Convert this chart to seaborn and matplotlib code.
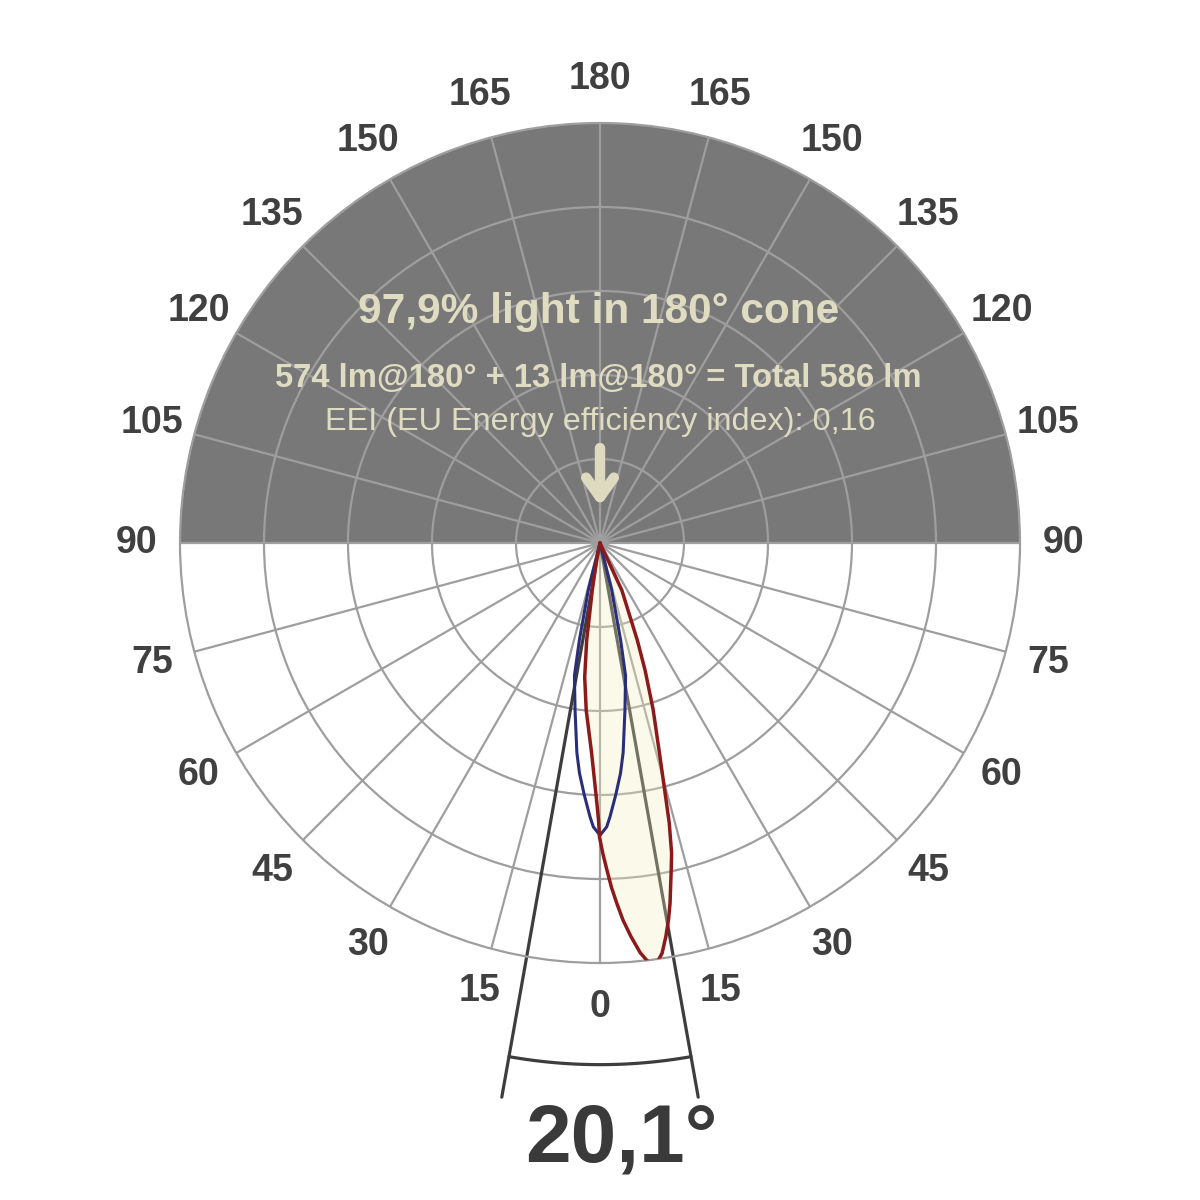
import numpy as np
import pandas as pd
import matplotlib
matplotlib.use("Agg")
import matplotlib.pyplot as plt
import seaborn as sns

# photometric curves: angle from nadir in degrees (positive = right), intensity in chart units (one ring = 100)
c0_angle = [-13.0, -11.5, -9.3, -7.8, -6.5, -4.7, -2.3, -0.9, -0.3, -0.1, 0.5, 1.2, 1.9,
            2.65, 3.5, 4.5, 5.6, 6.4, 7.0, 8.0, 8.6, 9.5, 10.3, 11.0, 11.6, 12.3, 13.0,
            13.9, 14.6, 15.8, 17.7, 19.5, 21.0, 24.8, 27.0]
c0_value = [0, 20, 57, 117, 161, 200, 250, 300, 330, 350, 369, 389, 410,
            429, 450, 470, 490, 500, 506, 501, 494, 475, 456, 437, 418, 398, 379,
            343, 307, 260, 208, 161, 124, 62, 0]

c90_angle = [-16.0, -14.0, -12.0, -10.9, -8.5, -6.3, -5.1, -3.6, -2.1, -1.35, 0.0,
             1.35, 2.1, 3.6, 5.1, 6.3, 8.5, 10.9, 12.0, 14.0, 16.0]
c90_value = [0, 57, 118, 161, 201, 251, 275, 300, 326, 338, 348,
             338, 326, 300, 275, 251, 201, 161, 118, 57, 0]

beam_angle = 20.1

tick_deg = [0, 15, 30, 45, 60, 75, 90, 105, 120, 135, 150, 165,
            180, 195, 210, 225, 240, 255, 270, 285, 300, 315, 330, 345]
tick_text = ["0", "15", "30", "45", "60", "75", "90", "105", "120", "135", "150", "165",
             "180", "165", "150", "135", "120", "105", "90", "75", "60", "45", "30", "15"]
ring_values = [100, 200, 300, 400]

title_text = "97,9% light in 180° cone"
flux_text = "574 lm@180° + 13 lm@180° = Total 586 lm"
eei_text = "EEI (EU Energy efficiency index): 0,16"

sns.set_style("white")
plt.rcParams["font.family"] = ["Liberation Sans", "DejaVu Sans"]

fig = plt.figure(figsize=(12, 12), dpi=100)
ax = fig.add_axes([0.15, 0.1975, 0.7, 0.7], projection="polar")
ax.set_theta_zero_location("S")
ax.set_theta_direction(1)
ax.set_axisbelow(True)

# dark upper hemisphere
half = np.linspace(np.pi / 2, 3 * np.pi / 2, 181)
ax.fill_between(half, 0, 500, color="#787878", linewidth=0, zorder=0.2)

# beam angle lines and arc
half_beam = np.radians(beam_angle / 2)
for t in (-half_beam, half_beam):
    ax.plot([t, t], [0, 670], color="#3d3d3d", lw=2.3, clip_on=False, zorder=1)
arc = np.linspace(-half_beam, half_beam, 60)
ax.plot(arc, np.full_like(arc, 621), color="#3d3d3d", lw=2.3, clip_on=False, zorder=1)

# lobes
df_c0 = pd.DataFrame({"theta": np.radians(c0_angle), "r": c0_value})
df_c90 = pd.DataFrame({"theta": np.radians(c90_angle), "r": c90_value})
ax.fill(df_c0["theta"], df_c0["r"], color="#f5eeb9", alpha=0.3, lw=0, zorder=2)
sns.lineplot(data=df_c90, x="theta", y="r", sort=False, estimator=None,
             color="#2a2e78", lw=2.2, ax=ax, zorder=3)
sns.lineplot(data=df_c0, x="theta", y="r", sort=False, estimator=None,
             color="#8c1a1a", lw=2.5, ax=ax, zorder=4)

ax.set_ylim(0, 500)
ax.set_rgrids(ring_values, labels=[])
ax.set_thetagrids(tick_deg, labels=[])
ax.grid(True, color="#9e9e9e", linewidth=1.6)
ax.spines["polar"].set_color("#9e9e9e")
ax.spines["polar"].set_linewidth(1.6)
ax.set_xlabel("")
ax.set_ylabel("")

for deg, lab in zip(tick_deg, tick_text):
    ax.text(np.radians(deg), 552, lab, ha="center", va="center",
            fontsize=27, fontweight="bold", color="#404040")

# arrow pointing to the luminaire
ax.annotate("", xy=(np.pi, 44), xytext=(np.pi, 113),
            arrowprops=dict(arrowstyle="->,head_length=0.7,head_width=0.5",
                            color="#dedac0", lw=7.5, mutation_scale=20,
                            shrinkA=0, shrinkB=0, capstyle="round", joinstyle="round"),
            zorder=5)

cream = "#e0dcc2"
fig.text(0.499, 0.7308, title_text, ha="center", va="baseline",
         fontsize=30.5, fontweight="bold", color=cream)
fig.text(0.4988, 0.6772, flux_text, ha="center", va="baseline",
         fontsize=23.6, fontweight="bold", color=cream)
fig.text(0.5004, 0.6417, eei_text, ha="center", va="baseline",
         fontsize=23.3, color=cream)

fig.text(0.5175, 0.0317, f"{beam_angle:.1f}°".replace(".", ","), ha="center", va="baseline",
         fontsize=59, fontweight="bold", color="#3a3a3a")

fig.savefig("out.png", dpi=100)
